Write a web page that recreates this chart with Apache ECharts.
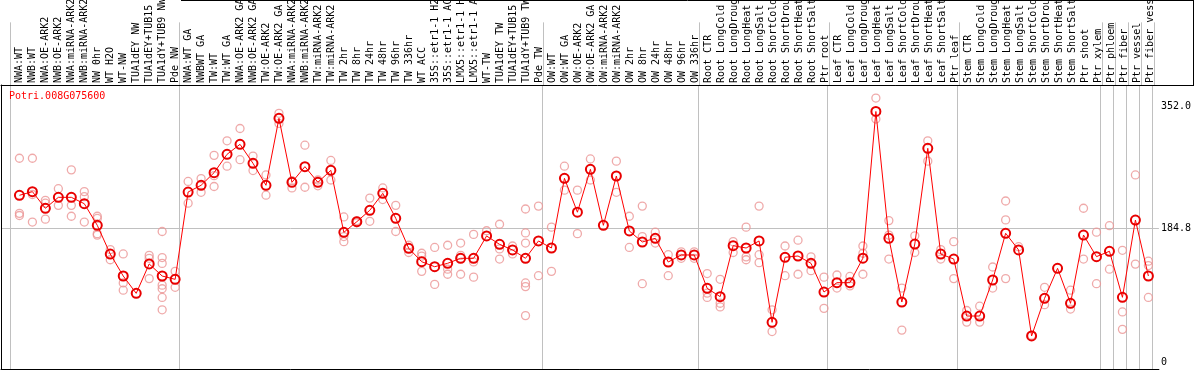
<!DOCTYPE html>
<html>
<head>
<meta charset="utf-8">
<script src="https://cdn.jsdelivr.net/npm/echarts@6/dist/echarts.min.js"></script>
<style>
html,body{margin:0;padding:0;background:#fff;}
#chart{width:1194px;height:370px;}
</style>
</head>
<body>
<div id="chart"></div>
<script>
const title = 'Potri.008G075600';
const categories = [
 'NWA:WT','NWB:WT','NWA:OE-ARK2','NWB:OE-ARK2','NWA:miRNA-ARK2','NWB:miRNA-ARK2','NW 0hr','WT H2O','WT-NW','TUA1dEY NW','TUA1dEY+TUB15 NW','TUA1dY+TUB9 NW','Pde NW',
 'NWA:WT GA','NWBWT GA','TW:WT','TW:WT GA','NWA:OE-ARK2 GA','NWB:OE-ARK2 GA','TW:OE-ARK2','TW:OE-ARK2 GA','NWA:miRNA-ARK2 GA','NWB:miRNA-ARK2 GA','TW:miRNA-ARK2','TW:miRNA-ARK2 GA',
 'TW 2hr','TW 8hr','TW 24hr','TW 48hr','TW 96hr','TW 336hr','WT ACC','35S::etr1-1 H2O','35S::etr1-1 ACC','LMX5::etr1-1 H2O','LMX5::etr1-1 ACC','WT-TW','TUA1dEY TW','TUA1dEY+TUB15 TW','TUA1dY+TUB9 TW','Pde TW',
 'OW:WT','OW:WT GA','OW:OE-ARK2','OW:OE-ARK2 GA','OW:miRNA-ARK2','OW:miRNA-ARK2 GA','OW 2hr','OW 8hr','OW 24hr','OW 48hr','OW 96hr','OW 336hr',
 'Root CTR','Root LongCold','Root LongDrought','Root LongHeat','Root LongSalt','Root ShortCold','Root ShortDrought','Root ShortHeat','Root ShortSalt','Ptr root',
 'Leaf CTR','Leaf LongCold','Leaf LongDrought','Leaf LongHeat','Leaf LongSalt','Leaf ShortCold','Leaf ShortDrought','Leaf ShortHeat','Leaf ShortSalt','Ptr leaf',
 'Stem CTR','Stem LongCold','Stem LongDrought','Stem LongHeat','Stem LongSalt','Stem ShortCold','Stem ShortDrought','Stem ShortHeat','Stem ShortSalt','Ptr shoot','Ptr xylem',
 'Ptr phloem','Ptr fiber','Ptr vessel','Ptr fiber vessel'
];
// first category index of each group, plus the end
const groupStarts = [0,13,41,53,63,73,84,85,86,87,88];
const means = [
 229.9,234.9,212,227.1,227.1,218.3,188.5,148.9,118.6,94.7,135.2,118.6,114,
 234.4,243.7,261.1,286.4,300.2,274,243.7,336,247.8,269.4,247.8,264.3,
 178.8,193.5,209.2,232.6,198.2,156.8,138.3,131.4,136.1,143,143,173.8,162.3,154.5,143,166.9,
 157.2,253.3,206.6,265.7,188.5,256.5,180.7,165.5,170.6,137.9,147.6,147.6,
 101.6,90.1,160.4,157.2,166.9,54.7,144.4,146.2,136.1,96.5,
 109.4,109.4,143.2,345.5,170.6,82.7,162.7,294.7,148.9,142,
 63.4,63.4,113.1,177.5,154.5,35.9,87.8,129.2,80.9,175.1,145.3,
 152.7,89.2,195.8,118.6
];
const replicates = [
 [281,205,202],[281,231,193],[223,219,197],[239,216],[265,216,201],[235,228,193],[201,198,177,175],[155,141],[149,109,99],[],[147,143,115],[180,144,136,106,101,89,72],[125,103],
 [249,219],[253,234],[285,257,242],[305,270],[322,279],[284,264],[258,230],[343,329],[250,240],[299,241],[251,243],[278,251],
 [200,173,166],[195,192],[226,194],[240,224],[216,180],[161,151],[150,146,125],[158,107],[161,128,121],[164,147,121],[176,138,117],[181],[190,156,142],[160,149],[211,178,164,109,104,64],[215,119],
 [186,125],[270,237],[237,177],[280,251],[],[277,234],[201,158],[215,173,108],[179,164],[148,119],[152,143],[152,143],
 [122,95,89],[114,81,76],[166,151],[186,145,141],[215,148,137],[72,42],[160,119],[168,121],[145,126],[117,74],
 [120,102],[118,105],[160,150,121],[364,335],[195,175,142],[102,44],[174,151],[305,277],[155,142],[166,115],
 [71,55],[77,55],[131,102],[222,196,115],[159],[37],[103,79],[],[99,73],[212,142],[179,108],
 [188,128],[154,69,45],[258,135],[139,133,89]
];
const yTickValues = [0, 184.8, 352];
const yGridValues = [184.8];

const XMIN = -1.42, XMAX_A = 90.35, XMAX_B = 87.81, BOUND_OFF = 0.72;
const boundaries = groupStarts.map(k => k - BOUND_OFF);
const catIdx = categories.map((c, i) => i);
const mono = '"DejaVu Sans Mono", "Liberation Mono", monospace';

const repData = [];
replicates.forEach((arr, i) => arr.forEach(v => repData.push([i, v])));
const meanData = means.map((v, i) => [i, v]);

const chart = echarts.init(document.getElementById('chart'), null, {renderer: 'canvas'});
chart.setOption({
  animation: false,
  backgroundColor: '#ffffff',
  title: {
    text: title, left: 9, top: 91, padding: 0,
    textStyle: {color: '#ff0000', fontFamily: mono, fontSize: 10, fontWeight: 'normal'}
  },
  grid: [
    {left: 1, top: 0, width: 1193, height: 85, containLabel: false},
    {left: 1, top: 85, width: 1160, height: 284, containLabel: false}
  ],
  xAxis: [
    {
      gridIndex: 0, type: 'value', min: XMIN, max: XMAX_A, position: 'bottom',
      axisLine: {show: true, onZero: false, lineStyle: {color: '#000', width: 1}},
      axisTick: {show: false, customValues: boundaries},
      splitLine: {show: true, lineStyle: {color: '#c0c0c0', width: 1}},
      axisLabel: {
        show: true, inside: true, rotate: 90, margin: 2,
        customValues: catIdx,
        formatter: v => categories[Math.round(v)] || '',
        fontFamily: mono, fontSize: 10, color: '#000'
      }
    },
    {
      gridIndex: 1, type: 'value', min: XMIN, max: XMAX_B, position: 'bottom',
      axisLine: {show: true, onZero: false, lineStyle: {color: '#000', width: 1}},
      axisTick: {show: false, customValues: boundaries},
      splitLine: {show: true, lineStyle: {color: '#c0c0c0', width: 1}},
      axisLabel: {show: false}
    }
  ],
  yAxis: [
    {gridIndex: 0, type: 'value', show: false, min: 0, max: 1},
    {
      gridIndex: 1, type: 'value', min: -9.65, max: 382.0, position: 'right',
      axisLine: {show: false},
      axisTick: {show: false, customValues: yGridValues},
      splitLine: {show: true, lineStyle: {color: '#c0c0c0', width: 1}},
      axisLabel: {
        show: true, margin: 2, customValues: yTickValues,
        formatter: v => (v === 0 ? '0' : Number(v).toFixed(1)),
        fontFamily: mono, fontSize: 10, color: '#000', align: 'left'
      }
    },
    {
      gridIndex: 1, type: 'value', min: -9.65, max: 382.0, position: 'left',
      axisLine: {show: true, onZero: false, lineStyle: {color: '#000', width: 1}},
      axisTick: {show: false}, axisLabel: {show: false}, splitLine: {show: false}
    }
  ],
  graphic: [
    {type: 'line', shape: {x1: 181, y1: 0.5, x2: 1194, y2: 0.5}, style: {stroke: '#000', lineWidth: 1}, silent: true},
    {type: 'line', shape: {x1: 1193.5, y1: 0, x2: 1193.5, y2: 85}, style: {stroke: '#000', lineWidth: 1}, silent: true}
  ],
  series: [
    {
      name: 'replicates', type: 'scatter', xAxisIndex: 1, yAxisIndex: 1,
      data: repData, symbol: 'circle', symbolSize: 8, z: 2,
      itemStyle: {color: 'rgba(255,255,255,0)', borderColor: '#eb9595', borderWidth: 1.3}
    },
    {
      name: 'mean', type: 'line', xAxisIndex: 1, yAxisIndex: 1,
      data: meanData, symbol: 'circle', symbolSize: 9, z: 3,
      lineStyle: {color: '#ff0000', width: 1},
      itemStyle: {color: 'rgba(255,255,255,0)', borderColor: '#e80000', borderWidth: 2}
    }
  ]
});
</script>
</body>
</html>
